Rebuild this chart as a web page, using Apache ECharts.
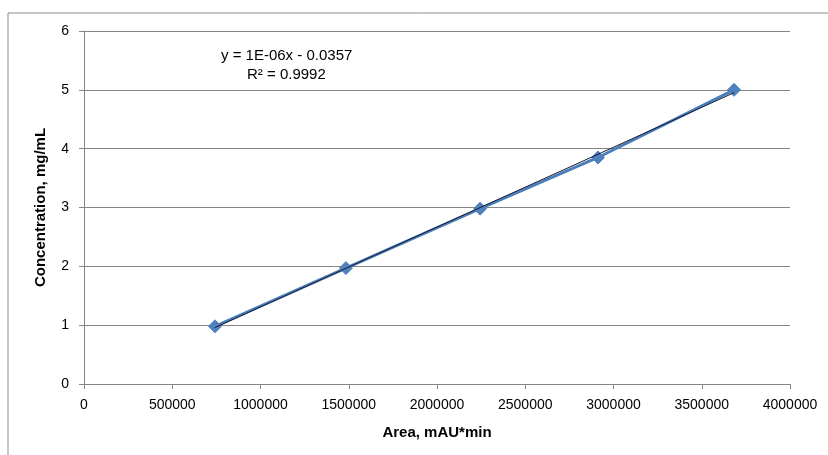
<!DOCTYPE html>
<html>
<head>
<meta charset="utf-8">
<script src="https://cdn.jsdelivr.net/npm/echarts@6/dist/echarts.min.js"></script>
<style>html,body{margin:0;padding:0;background:#fff;}#c{width:828px;height:455px;}</style>
</head>
<body>
<div id="c"></div>
<script>
// Data
var areas = [742000, 1484000, 2244000, 2912000, 3683000];
var concentrations = [0.98, 1.97, 2.98, 3.85, 5.0];
var yTicks = [0, 1, 2, 3, 4, 5, 6];
var xTicks = [0, 500000, 1000000, 1500000, 2000000, 2500000, 3000000, 3500000, 4000000];
var equationText = 'y = 1E-06x - 0.0357';
var r2Text = 'R² = 0.9992';
var xTitle = 'Area, mAU*min';
var yTitle = 'Concentration, mg/mL';

// least-squares linear trendline from the data
var n = areas.length, sx = 0, sy = 0, sxx = 0, sxy = 0;
for (var i = 0; i < n; i++) { sx += areas[i]; sy += concentrations[i]; sxx += areas[i]*areas[i]; sxy += areas[i]*concentrations[i]; }
var slope = (n*sxy - sx*sy) / (n*sxx - sx*sx);
var intercept = (sy - slope*sx) / n;
var xMin = Math.min.apply(null, areas), xMax = Math.max.apply(null, areas);
var trend = [[xMin, slope*xMin + intercept], [xMax, slope*xMax + intercept]];

var pts = areas.map(function (a, i) { return [a, concentrations[i]]; });
var font = 'Liberation Sans, Arial, sans-serif';

var chart = echarts.init(document.getElementById('c'), null, {renderer: 'canvas'});
chart.setOption({
  animation: false,
  backgroundColor: '#fff',
  grid: {left: 84, right: 38, top: 31, bottom: 71, containLabel: false},
  xAxis: {
    type: 'value', min: xTicks[0], max: xTicks[xTicks.length - 1], interval: xTicks[1] - xTicks[0],
    name: xTitle, nameLocation: 'middle', nameGap: 41,
    nameTextStyle: {fontFamily: font, fontSize: 15, fontWeight: 'bold', color: '#000'},
    axisLine: {show: true, lineStyle: {color: '#868686', width: 1}},
    axisTick: {show: true, length: 5, lineStyle: {color: '#868686'}},
    axisLabel: {fontFamily: font, fontSize: 14, color: '#000', margin: 14,
      formatter: function (v) { return String(v); }},
    splitLine: {show: false}
  },
  yAxis: {
    type: 'value', min: yTicks[0], max: yTicks[yTicks.length - 1], interval: 1,
    name: yTitle, nameLocation: 'middle', nameGap: 36, nameRotate: 90,
    nameTextStyle: {fontFamily: font, fontSize: 15, fontWeight: 'bold', color: '#000'},
    axisLine: {show: true, lineStyle: {color: '#868686', width: 1}},
    axisTick: {show: true, length: 5, lineStyle: {color: '#868686'}},
    axisLabel: {fontFamily: font, fontSize: 14, color: '#000', margin: 15},
    splitLine: {show: true, lineStyle: {color: '#868686', width: 1}}
  },
  series: [
    {
      type: 'line', data: pts, symbol: 'diamond', symbolSize: 13,
      lineStyle: {color: '#4A7EBB', width: 3},
      itemStyle: {color: '#4F81BD', borderColor: '#4F81BD'},
      z: 2
    },
    {
      type: 'line', data: trend, symbol: 'none',
      lineStyle: {color: '#1a1a2e', width: 1},
      z: 3
    }
  ],
  graphic: [
    {type: 'rect', shape: {x: 8, y: 13, width: 840, height: 460}, style: {fill: 'none', stroke: '#8c8c8c', lineWidth: 1}, silent: true},
    {type: 'text', left: 221, top: 48, style: {text: equationText, font: '15px ' + font, fill: '#000'}},
    {type: 'text', left: 247, top: 67, style: {text: r2Text, font: '15px ' + font, fill: '#000'}}
  ]
});
</script>
</body>
</html>
